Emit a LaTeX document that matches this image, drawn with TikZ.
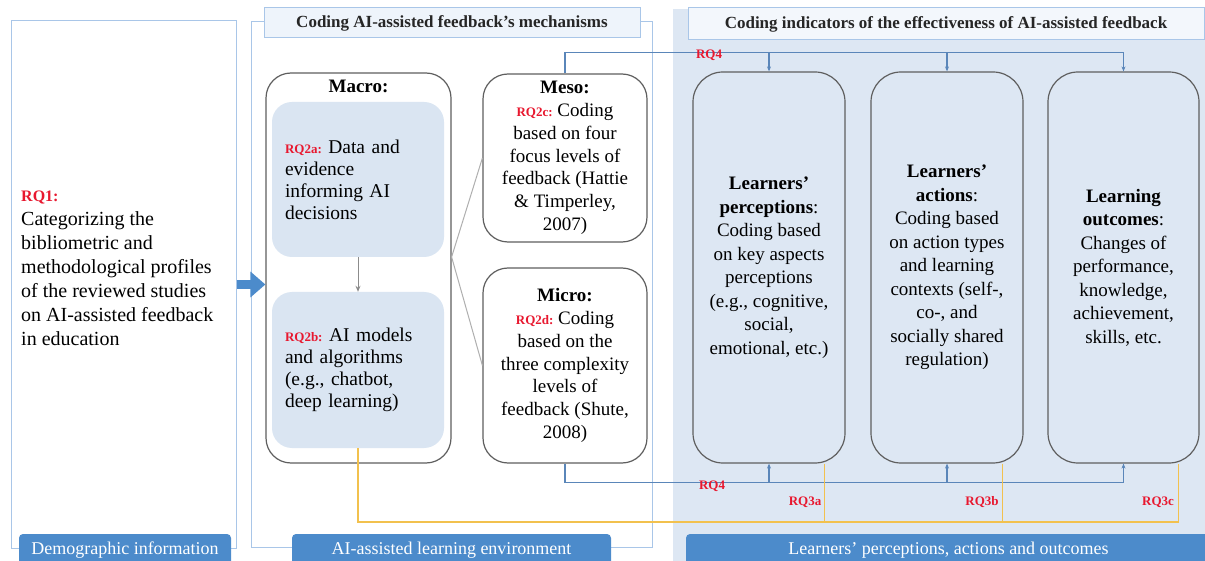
\documentclass[tikz,border=0pt]{standalone}
\usepackage{fontspec}
\setmainfont{Liberation Serif}
\usepackage{xcolor}
\usetikzlibrary{arrows.meta,positioning,calc}
\definecolor{ink}{HTML}{5F5F5F}
\definecolor{edge}{HTML}{A9C6E8}
\definecolor{softb}{HTML}{DDE7F3}
\definecolor{cellb}{HTML}{DAE5F2}
\definecolor{headb}{HTML}{EEF4FB}
\definecolor{barb}{HTML}{4C8BCB}
\definecolor{rqred}{HTML}{E8182F}
\definecolor{rqblue}{HTML}{5A86B9}
\definecolor{rqgold}{HTML}{F2C14E}
\definecolor{grey}{HTML}{8C8C8C}
\frenchspacing
\newcommand{\rqtag}[1]{{\color{rqred}\bfseries\fontsize{13}{13}\selectfont #1}}
\tikzset{
  panel/.style={draw=edge,line width=1pt,fill=white},
  head/.style={draw=edge,line width=1pt,fill=headb,font=\bfseries\fontsize{17}{20}\selectfont,text=black!85},
  bar/.style={fill=barb,rounded corners=4pt,text=white,font=\fontsize{18}{20}\selectfont},
  level/.style={draw=ink,line width=1.2pt,rounded corners=25pt,fill=white,align=center,font=\fontsize{19}{22.8}\selectfont,inner sep=0pt},
  cell/.style={fill=cellb,rounded corners=20pt,align=left,text width=146pt,font=\fontsize{19.5}{22}\selectfont,inner sep=0pt},
  indbox/.style={draw=ink,line width=1.2pt,rounded corners=30pt,align=center,font=\fontsize{19}{23.5}\selectfont,inner sep=0pt},
  rqlbl/.style={text=rqred,font=\bfseries\fontsize{13}{13}\selectfont,inner sep=1pt},
  rqline/.style={draw=rqblue,line width=1.2pt},
  rqarrow/.style={rqline,-{Stealth[length=5pt,width=4pt]}},
  goldline/.style={draw=rqgold,line width=1.6pt},
  link/.style={draw=grey,line width=1pt},
  bigarrow/.style={draw=barb,line width=9pt,-{Triangle[length=15pt,width=25pt]}}
}
\begin{document}
\begin{tikzpicture}[x=1pt,y=-1pt]
  \useasboundingbox (0,0) rectangle (1205,561);
  % panels
  \node[panel,minimum width=225pt,minimum height=527pt] (demo) at (123.5,284.5) {};
  \node[panel,minimum width=401pt,minimum height=525pt] (mech) at (451.5,284.5) {};
  \node[fill=softb,inner sep=0pt,minimum width=545pt,minimum height=565pt] (ind) at (945.5,291.5) {};
  \node[head,minimum width=376pt,minimum height=30pt] (mechhead) at (452,23) {Coding AI-assisted feedback's mechanisms};
  \node[head,fill=headb!70,minimum width=516pt,minimum height=32pt] (indhead) at (946,24) {Coding indicators of the effectiveness of AI-assisted feedback};
  \node[bar,minimum width=212pt,minimum height=32pt] (demobar) at (125,550) {Demographic information};
  \node[bar,minimum width=319pt,minimum height=32pt] (envbar) at (451.5,550) {AI-assisted learning environment};
  \node[bar,minimum width=525pt,minimum height=32pt] (indbar) at (948.5,550) {Learners' perceptions, actions and outcomes};

  \node[anchor=west,align=left,inner sep=0pt,font=\fontsize{20}{24}\selectfont] (rq1) at (21,268)
    {{\color{rqred}\bfseries\fontsize{16}{20}\selectfont RQ1:}\\Categorizing the\\bibliometric and\\methodological profiles\\of the reviewed studies\\on AI-assisted feedback\\in education};

  % mechanisms
  \node[level,minimum width=185pt,minimum height=390pt] (macro) at (358.5,268) {};
  \node[font=\bfseries\fontsize{19}{22}\selectfont,below=4pt of macro.north] (macrolbl) {Macro:};
  \node[cell,minimum width=172pt,minimum height=155pt] (rq2a) at (358,179.5) {\rqtag{RQ2a:} Data and\\evidence\\informing AI\\decisions};
  \node[cell,minimum width=172pt,minimum height=156pt] (rq2b) at (358,370) {\rqtag{RQ2b:} AI models\\and algorithms\\(e.g., chatbot,\\deep learning)};
  \draw[link,-{Stealth[length=6pt,width=5pt]}] (rq2a) -- (rq2b);
  \node[level,minimum width=164pt,minimum height=168pt] (meso) at (565,158)
    {\textbf{Meso:}\\\rqtag{RQ2c:} Coding\\based on four\\focus levels of\\feedback (Hattie\\\& Timperley,\\2007)};
  \node[level,minimum width=164pt,minimum height=195pt] (micro) at (565,365.5)
    {\textbf{Micro:}\\\rqtag{RQ2d:} Coding\\based on the\\three complexity\\levels of\\feedback (Shute,\\2008)};
  \coordinate (split) at ([yshift=11pt]macro.east);
  \draw[link,draw=grey!70] (split) -- (meso.west);
  \draw[link,draw=grey!70] (split) -- (micro.west);

  % indicators
  \node[indbox,minimum width=152pt,minimum height=391pt] (percep) at (769,267.5)
    {\textbf{Learners'}\\\textbf{perceptions}:\\Coding based\\on key aspects\\perceptions\\(e.g., cognitive,\\social,\\emotional, etc.)};
  \node[indbox,minimum width=152pt,minimum height=391pt] (action) at (947,267.5)
    {\textbf{Learners'}\\\textbf{actions}:\\Coding based\\on action types\\and learning\\contexts (self-,\\co-, and\\socially shared\\regulation)};
  \node[indbox,minimum width=151pt,minimum height=391pt] (outcome) at (1123.5,267.5)
    {\textbf{Learning}\\\textbf{outcomes}:\\Changes of\\performance,\\knowledge,\\achievement,\\skills, etc.};

  % RQ4 links
  \coordinate (rqtop) at ($(meso.north)+(0,-21)$);
  \coordinate (rqbot) at ($(micro.south)+(0,19)$);
  \draw[rqline] (meso.north) -- (rqtop) -| (outcome.north);
  \draw[rqline] (micro.south) -- (rqbot) -| (outcome.south);
  \foreach \b in {percep,action,outcome} {
    \draw[rqarrow] (rqtop -| \b.north) -- (\b.north);
    \draw[rqarrow] (rqbot -| \b.south) -- (\b.south);
  }
  \node[rqlbl] (rq4a) at (709,55) {RQ4};
  \node[rqlbl] (rq4b) at (712,486) {RQ4};

  % RQ3 links
  \coordinate (gold) at ($(rq2b.south)+(0,74)$);
  \coordinate (ga) at ([xshift=-21pt]percep.south east);
  \coordinate (gb) at ([xshift=-21pt]action.south east);
  \draw[goldline] (rq2b.south) -- (gold) -| ([xshift=-21pt]outcome.south east);
  \draw[goldline] (ga) -- (ga |- gold);
  \draw[goldline] (gb) -- (gb |- gold);
  \node[rqlbl] (rq3a) at (805,502) {RQ3a};
  \node[rqlbl] (rq3b) at (982,502) {RQ3b};
  \node[rqlbl] (rq3c) at (1158,502) {RQ3c};

  \draw[bigarrow] (demo.east) -- (demo.east -| macro.west);
\end{tikzpicture}
\end{document}
